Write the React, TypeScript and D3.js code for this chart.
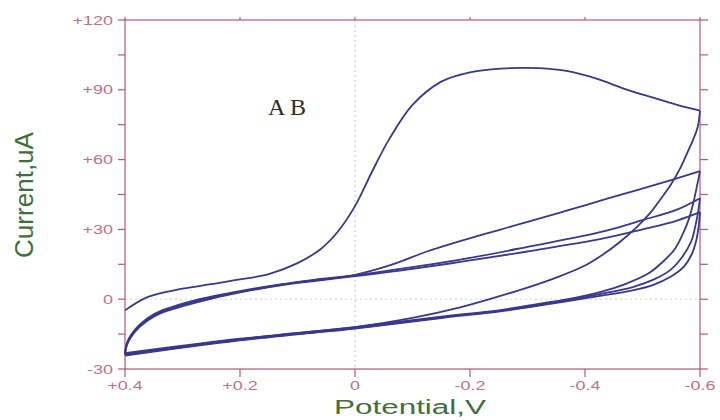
import * as d3 from 'd3';

type Pt = [number, number];

// potential (V), current (uA)
const scan1Forward: Pt[] = [
  [0.4, -4.8], [0.36, 1], [0.3, 4.5], [0.25, 6.5], [0.2, 8.5], [0.15, 10.8],
  [0.1, 15.5], [0.06, 21.5], [0.03, 29], [0, 40], [-0.03, 55], [-0.06, 69],
  [-0.1, 83.5], [-0.15, 93.5], [-0.2, 97.5], [-0.26, 99.2], [-0.32, 99.3],
  [-0.37, 98], [-0.42, 94.8], [-0.47, 90.3], [-0.52, 86.5], [-0.56, 83.5], [-0.6, 81],
];
const scan1Return: Pt[] = [
  [-0.6, 81], [-0.596, 74], [-0.588, 68.5], [-0.578, 63], [-0.565, 56], [-0.55, 49.5],
  [-0.53, 42.5], [-0.515, 37.5], [-0.49, 31], [-0.46, 24.5], [-0.43, 19], [-0.4, 14.5],
  [-0.35, 9.3], [-0.3, 5], [-0.25, 1.2], [-0.183, -3.5], [-0.1, -8], [0, -12],
  [0.1, -14.5], [0.2, -17], [0.3, -20], [0.4, -23.2],
];
const scan2Forward: Pt[] = [
  [0.4, -23.2], [0.397, -19], [0.39, -15.5], [0.375, -11], [0.35, -6.5], [0.32, -3.5],
  [0.27, 0], [0.2, 3.5], [0.13, 6.4], [0.06, 8.7], [0, 10.5], [-0.06, 14.5], [-0.125, 20.5],
  [-0.183, 25], [-0.3, 33.2], [-0.374, 38.5], [-0.44, 43.3], [-0.52, 49], [-0.6, 55],
];
const scan2Return: Pt[] = [
  [-0.6, 55], [-0.595, 49], [-0.589, 42], [-0.58, 34], [-0.57, 28], [-0.556, 21.5],
  [-0.535, 16], [-0.51, 11], [-0.47, 6.5], [-0.426, 3], [-0.38, 0.5], [-0.32, -2],
  [-0.25, -4.8], [-0.15, -7.5], [0, -12], [0.1, -14.6], [0.2, -17.2], [0.3, -20.3], [0.4, -23.6],
];
const scan3Forward: Pt[] = [
  [0.4, -23.6], [0.397, -19.5], [0.39, -16], [0.375, -11.5], [0.35, -7], [0.32, -4],
  [0.27, -0.5], [0.2, 3.2], [0.13, 6.1], [0.06, 8.4], [0, 10.2], [-0.078, 13], [-0.183, 17],
  [-0.3, 22.5], [-0.43, 29], [-0.5, 34], [-0.56, 38.5], [-0.6, 43.4],
];
const scan3Return: Pt[] = [
  [-0.6, 43.4], [-0.597, 38], [-0.592, 31.5], [-0.585, 25], [-0.57, 18.5], [-0.548, 12.5],
  [-0.52, 8.5], [-0.483, 5.2], [-0.426, 2.2], [-0.32, -2.4], [-0.25, -5], [-0.15, -7.8],
  [0, -12.4], [0.1, -14.9], [0.2, -17.5], [0.3, -20.6], [0.4, -23.9],
];
const scan4Forward: Pt[] = [
  [0.4, -23.9], [0.397, -20], [0.39, -16.5], [0.375, -12], [0.35, -7.5], [0.32, -4.5],
  [0.27, -1], [0.2, 2.9], [0.13, 5.9], [0.06, 8.1], [0, 9.9], [-0.078, 12.3], [-0.183, 16],
  [-0.3, 20.5], [-0.43, 26], [-0.5, 30], [-0.56, 33.8], [-0.6, 37.4],
];
const scan4Return: Pt[] = [
  [-0.6, 37.4], [-0.598, 32], [-0.594, 25.8], [-0.585, 19], [-0.572, 14], [-0.548, 9.5],
  [-0.52, 6.3], [-0.483, 3.8], [-0.426, 1.4], [-0.32, -2.8], [-0.25, -5.3], [-0.15, -8.1],
  [0, -12.6], [0.1, -15.1], [0.2, -17.7], [0.3, -20.8], [0.4, -24.2],
];

const traces = [
  scan1Forward, scan1Return, scan2Forward, scan2Return,
  scan3Forward, scan3Return, scan4Forward, scan4Return,
];

const xTicks = [0.4, 0.2, 0, -0.2, -0.4, -0.6];
const xTickLabels = ['+0.4', '+0.2', '0', '-0.2', '-0.4', '-0.6'];
const yTicks = [120, 90, 60, 30, 0, -30];
const yTickLabels = ['+120', '+90', '+60', '+30', '0', '-30'];
const yMinor = [-30, -15, 0, 15, 30, 45, 60, 75, 90, 105, 120];

const W = 720;
const H = 420;
const axisColor = '#b8557c';
const labelColor = '#c0708c';
const titleColor = '#3f6e3f';
const traceColor = '#38388e';
const gridColor = '#a9c9d8';

export default function App() {
  const x = d3.scaleLinear().domain([0.4, -0.6]).range([125, 700]);
  const y = d3.scaleLinear().domain([-30, 120]).range([369, 20]);
  const [x0, x1] = x.range();
  const [y0, y1] = y.range();

  const line = d3
    .line<Pt>()
    .x((d) => x(d[0]))
    .y((d) => y(d[1]))
    .curve(d3.curveCatmullRom.alpha(0.5));

  const font = '"Liberation Sans", Arial, sans-serif';

  return (
    <svg
      width={W}
      height={H}
      style={{ position: 'absolute', left: 0, top: 0, background: '#fff' }}
      fontFamily={font}
    >
      {/* zero lines */}
      <line x1={x(0)} x2={x(0)} y1={y1} y2={y0} stroke={gridColor} strokeDasharray="2,3" />
      <line x1={x0} x2={x1} y1={y(0)} y2={y(0)} stroke="#c9cfd8" strokeDasharray="2,3" />

      {/* frame */}
      <rect x={x0} y={y1} width={x1 - x0} height={y0 - y1} fill="none" stroke={axisColor} strokeWidth={1.2} />

      {/* ticks */}
      {xTicks.map((t) => (
        <g key={'xt' + t}>
          <line x1={x(t)} x2={x(t)} y1={y0} y2={y0 + 8} stroke={axisColor} strokeWidth={1.2} />
          <line x1={x(t)} x2={x(t)} y1={y1} y2={y1 - 3} stroke={axisColor} strokeWidth={1.2} />
        </g>
      ))}
      {yMinor.map((t) => (
        <g key={'yt' + t}>
          <line x1={x0 - 7} x2={x0} y1={y(t)} y2={y(t)} stroke={axisColor} strokeWidth={1.2} />
          <line x1={x1} x2={x1 + 8} y1={y(t)} y2={y(t)} stroke={axisColor} strokeWidth={1.2} />
        </g>
      ))}

      {/* tick labels */}
      {xTicks.map((t, i) => (
        <text
          key={'xl' + t}
          transform={`translate(${x(t)},${y0 + 21}) scale(1.38,1)`}
          textAnchor="middle"
          fontSize={13}
          fill={labelColor}
        >
          {xTickLabels[i]}
        </text>
      ))}
      {yTicks.map((t, i) => (
        <text
          key={'yl' + t}
          transform={`translate(${x0 - 12},${y(t) + 4.5}) scale(1.5,1)`}
          textAnchor="end"
          fontSize={12}
          fill={labelColor}
        >
          {yTickLabels[i]}
        </text>
      ))}

      {/* traces */}
      {traces.map((tr, i) => (
        <path key={i} d={line(tr) ?? ''} fill="none" stroke={traceColor} strokeWidth={1.8} strokeLinejoin="round" />
      ))}

      <text x={268} y={115} fontFamily='"Liberation Serif", "Times New Roman", serif' fontSize={24} fill="#2b2b2b">
        A B
      </text>

      {/* axis titles */}
      <text x={334} y={414} fontSize={20} fill={titleColor} textLength={152} lengthAdjust="spacingAndGlyphs">
        Potential,V
      </text>
      <text
        transform={`translate(33,258) rotate(-90)`}
        fontSize={25}
        fill={titleColor}
        textLength={126}
        lengthAdjust="spacingAndGlyphs"
      >
        Current,uA
      </text>
    </svg>
  );
}
